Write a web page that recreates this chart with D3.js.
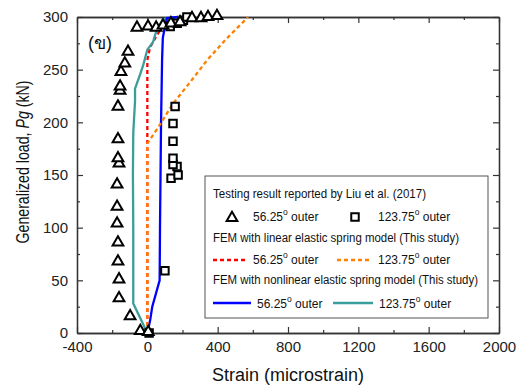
<!DOCTYPE html>
<html><head><meta charset="utf-8">
<script src="https://cdn.jsdelivr.net/npm/d3@7"></script>
<style>body{margin:0;background:#fff}svg{display:block}text{font-family:Arial,"Liberation Sans",sans-serif}</style>
</head><body><svg id="c" width="524" height="387"></svg>
<script>
// Test data: Liu et al. (2017)
const test56Strain = [-40,5,-98,-161,-161,-167,-167,-172,-172,-172,-161,-167,-167,-167,-155,-155,-150,-128,-110,-59,4,50,89,134,186,254,305,345,396];
const test56Load   = [2,1,16,33,51,68,86,104,120,141,161,166,184,215,230,234,248,256,267,290,291,290,292,294,295,299,299,300,301];
const test123Strain = [10,100,135,175,169,146,146,146,146,158,130,170,205,225];
const test123Load   = [0,59,147,150,158,160,166,182,199,215,291,294,297,300];
// FEM linear elastic spring
const linear56Strain = [0,0,15,55,84,112,140];
const linear56Load   = [0,259,271,283,290,295,300];
const linear123Strain = [0,0,61,147,243,340,442,573];
const linear123Load   = [0,180,195,218,238,259,278,300];
// FEM nonlinear elastic spring
const nonlin56Strain = [0,16,28,70,72,75,78,82,84,88,101,112,175];
const nonlin56Load   = [0,12,25,50,100,150,200,240,260,280,292,299,300];
const nonlin123Strain = [0,-80,-80,-80,-82,-80,-70,-70,-42,-24,0,32,50,89,175];
const nonlin123Load   = [0,28,60,100,150,190,220,232,245,254,269,276,286,298,300];
// axes
const xMajor = [-400,0,400,800,1200,1600,2000];
const xMinor = [-200,200,600,1000,1400,1800];
const yMajor = [0,50,100,150,200,250,300];
const yMinor = [25,75,125,175,225,275];

const svg = d3.select("#c");
const x = d3.scaleLinear().domain([-400,2000]).range([77,499]);
const y = d3.scaleLinear().domain([0,300]).range([333,17]);
const axisCol = "#333";
const fmt = d => String(d);

function styleAxis(g){ g.select(".domain").attr("stroke",axisCol).attr("stroke-width",1.3);
  g.selectAll(".tick line").attr("stroke",axisCol).attr("stroke-width",1.2);
  g.selectAll("text").attr("fill","#222").attr("font-size",15).attr("font-family","Arial, 'Liberation Sans', sans-serif"); }

svg.append("g").attr("transform","translate(0,333)")
  .call(d3.axisBottom(x).tickValues(xMajor).tickFormat(fmt).tickSizeInner(-6).tickSizeOuter(0).tickPadding(8)).call(styleAxis);
svg.append("g").attr("transform","translate(0,333)")
  .call(d3.axisBottom(x).tickValues(xMinor).tickFormat("").tickSizeInner(-3).tickSizeOuter(0)).call(styleAxis);
svg.append("g").attr("transform","translate(0,17)")
  .call(d3.axisTop(x).tickValues(xMajor).tickFormat("").tickSizeInner(-6).tickSizeOuter(0)).call(styleAxis);
svg.append("g").attr("transform","translate(0,17)")
  .call(d3.axisTop(x).tickValues(xMinor).tickFormat("").tickSizeInner(-3).tickSizeOuter(0)).call(styleAxis);
svg.append("g").attr("transform","translate(77,0)")
  .call(d3.axisLeft(y).tickValues(yMajor).tickFormat(fmt).tickSizeInner(-6).tickSizeOuter(0).tickPadding(9)).call(styleAxis);
svg.append("g").attr("transform","translate(77,0)")
  .call(d3.axisLeft(y).tickValues(yMinor).tickFormat("").tickSizeInner(-3).tickSizeOuter(0)).call(styleAxis);
svg.append("g").attr("transform","translate(499,0)")
  .call(d3.axisRight(y).tickValues(yMajor).tickFormat("").tickSizeInner(-6).tickSizeOuter(0)).call(styleAxis);
svg.append("g").attr("transform","translate(499,0)")
  .call(d3.axisRight(y).tickValues(yMinor).tickFormat("").tickSizeInner(-3).tickSizeOuter(0)).call(styleAxis);

// titles
svg.append("text").attr("x",288).attr("y",381).attr("text-anchor","middle").attr("font-size",18).attr("fill","#111")
  .text("Strain (microstrain)");
const yl = svg.append("text").attr("transform","translate(29,162) rotate(-90)").attr("text-anchor","middle")
  .attr("font-size",18).attr("fill","#111").attr("textLength",163).attr("lengthAdjust","spacingAndGlyphs");
yl.append("tspan").text("Generalized load, ");
yl.append("tspan").attr("font-style","italic").text("Pg");
yl.append("tspan").text(" (kN)");

svg.append("text").attr("x",88).attr("y",49).attr("font-size",18).attr("fill","#111").text("(ข)");

// lines
const line = (xs,ys) => d3.line()(xs.map((v,i)=>[x(v),y(ys[i])]));
const series = [
  {xs:linear56Strain, ys:linear56Load, col:"#ff0000", dash:"4,3"},
  {xs:nonlin123Strain, ys:nonlin123Load, col:"#3a9e9a", dash:null},
  {xs:nonlin56Strain, ys:nonlin56Load, col:"#0000ff", dash:null},
  {xs:linear123Strain, ys:linear123Load, col:"#ff8000", dash:"4,3"}
];
series.forEach(s=>{
  svg.append("path").attr("d",line(s.xs,s.ys)).attr("fill","none").attr("stroke",s.col)
    .attr("stroke-width",2.3).attr("stroke-dasharray",s.dash);
});

// markers
const tri = d3.symbol(d3.symbolTriangle,50)();
const sq = d3.symbol(d3.symbolSquare,56)();
svg.append("g").selectAll("path").data(test123Strain).join("path")
  .attr("d",sq).attr("transform",(d,i)=>`translate(${x(d)},${y(test123Load[i])})`)
  .attr("fill","white").attr("stroke","#000").attr("stroke-width",2);
svg.append("g").selectAll("path").data(test56Strain).join("path")
  .attr("d",tri).attr("transform",(d,i)=>`translate(${x(d)},${y(test56Load[i])})`)
  .attr("fill","white").attr("stroke","#000").attr("stroke-width",2);

// legend
const lg = svg.append("g");
lg.append("rect").attr("x",205).attr("y",176).attr("width",283).attr("height",142)
  .attr("fill","white").attr("stroke","#555").attr("stroke-width",1);
const fs = 12;
function txt(xp,yp,t,len){ return lg.append("text").attr("x",xp).attr("y",yp).attr("font-size",fs).attr("fill","#111")
  .attr("textLength",len).attr("lengthAdjust","spacingAndGlyphs").text(t); }
function deg(xp,yp,num){ const t=lg.append("text").attr("x",xp).attr("y",yp).attr("font-size",fs).attr("fill","#111");
  t.append("tspan").text(num); t.append("tspan").attr("font-size",8.5).attr("dy",-6).text("o");
  t.append("tspan").attr("dy",6).text(" outer"); }
txt(213,198,"Testing result reported by Liu et al. (2017)",213);
lg.append("path").attr("d",tri).attr("transform","translate(232,218)").attr("fill","white").attr("stroke","#000").attr("stroke-width",2);
deg(253,221,"56.25");
lg.append("path").attr("d",sq).attr("transform","translate(355,217)").attr("fill","white").attr("stroke","#000").attr("stroke-width",2);
deg(378,221,"123.75");
txt(213,242,"FEM with linear elastic spring model (This study)",246);
lg.append("line").attr("x1",213).attr("x2",246).attr("y1",260).attr("y2",260).attr("stroke","#ff0000").attr("stroke-width",2.3).attr("stroke-dasharray","4,3");
deg(253,264,"56.25");
lg.append("line").attr("x1",337).attr("x2",370).attr("y1",260).attr("y2",260).attr("stroke","#ff8000").attr("stroke-width",2.3).attr("stroke-dasharray","4,3");
deg(378,264,"123.75");
txt(213,284,"FEM with nonlinear elastic spring model (This study)",265);
lg.append("line").attr("x1",213).attr("x2",251).attr("y1",303).attr("y2",303).attr("stroke","#0000ff").attr("stroke-width",2.3);
deg(257,308,"56.25");
lg.append("line").attr("x1",333).attr("x2",373).attr("y1",303).attr("y2",303).attr("stroke","#3a9e9a").attr("stroke-width",2.3);
deg(379,308,"123.75");
</script></body></html>
